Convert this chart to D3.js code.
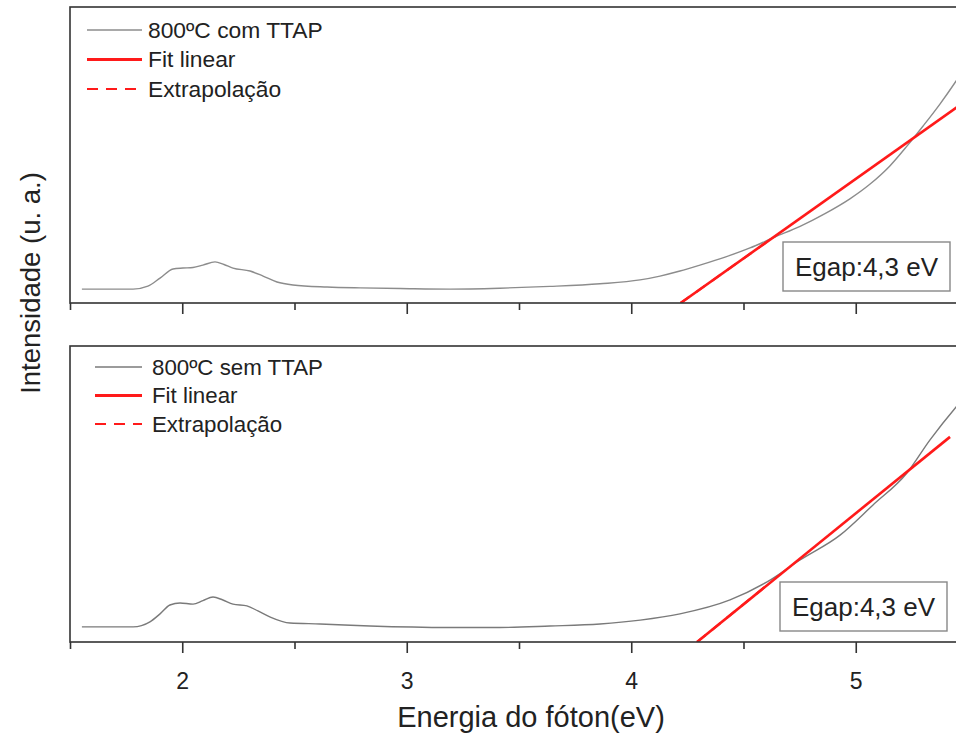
<!DOCTYPE html>
<html>
<head>
<meta charset="utf-8">
<script src="https://cdn.jsdelivr.net/npm/d3@7"></script>
<style>
  html, body { margin: 0; padding: 0; background: #fff; }
  svg { display: block; font-family: "Liberation Sans", Arial, sans-serif; }
</style>
</head>
<body>
<svg id="chart" width="956" height="735"></svg>
<script>
// ---------------- DATA ----------------
const xMajorTicks = [2, 3, 4, 5];
const xMinorTicks = [1.5, 2.5, 3.5, 4.5, 5.5];

const energyTop = [1.553, 1.781, 1.847, 1.901, 1.959, 2.003, 2.048, 2.092, 2.146, 2.186, 2.226, 2.302, 2.36, 2.422, 2.493, 2.645, 2.792, 2.97, 3.193, 3.415, 3.638, 3.861, 4.039, 4.128, 4.217, 4.306, 4.418, 4.529, 4.64, 4.752, 4.863, 4.974, 5.064, 5.153, 5.228, 5.3, 5.375, 5.447, 5.5];
const intensityTop = [4.7, 4.7, 5.7, 8.4, 11.5, 11.8, 12.0, 12.8, 13.9, 13.0, 11.8, 10.8, 9.1, 7.1, 6.1, 5.4, 5.1, 4.9, 4.7, 5.0, 5.6, 6.5, 7.8, 9.1, 10.8, 12.8, 15.5, 18.6, 22.3, 25.9, 30.2, 35.2, 40.2, 46.4, 53.0, 59.8, 67.2, 75.0, 81.1];

const energyBottom = [1.553, 1.781, 1.856, 1.901, 1.945, 1.99, 2.048, 2.092, 2.137, 2.181, 2.226, 2.288, 2.337, 2.39, 2.48, 2.614, 2.836, 3.193, 3.415, 3.638, 3.861, 4.04, 4.217, 4.44, 4.605, 4.752, 4.93, 5.077, 5.228, 5.33, 5.447, 5.5];
const intensityBottom = [5.1, 5.1, 6.8, 9.5, 12.5, 13.2, 12.8, 14.0, 15.2, 14.2, 12.8, 12.2, 10.5, 8.5, 6.4, 6.1, 5.4, 4.9, 4.9, 5.4, 6.1, 7.4, 9.5, 14.2, 20.3, 27.7, 36.1, 46.3, 57.1, 68.2, 79.4, 84.0];

const fitTopX = [4.22, 5.5];
const fitTopY = [0, 68.8];
const extraTopX = [4.22, 4.6];
const extraTopY = [0, 20.4];

const fitBottomX = [4.293, 5.42];
const fitBottomY = [0, 69.3];
const extraBottomX = [4.293, 4.6];
const extraBottomY = [0, 18.9];

const legendTop = ["800ºC com TTAP", "Fit linear", "Extrapolação"];
const legendBottom = ["800ºC sem TTAP", "Fit linear", "Extrapolação"];
const egapLabel = "Egap:4,3 eV";
const xTitle = "Energia do fóton(eV)";
const yTitle = "Intensidade (u. a.)";

// ---------------- LAYOUT ----------------
const svg = d3.select("#chart");
const left = 70, right = 968;
const panels = [
  { top: 7, bottom: 303, energy: energyTop, inten: intensityTop, color: "#8c8c8c",
    fitX: fitTopX, fitY: fitTopY, exX: extraTopX, exY: extraTopY, legend: legendTop,
    legX1: 87, legX2: 142, legTextX: 148, legY0: 30, legDy: 29.5, legFont: 22.8,
    box: { x: 783, y: 242, w: 167, h: 49 } },
  { top: 346, bottom: 642, energy: energyBottom, inten: intensityBottom, color: "#7a7a7a",
    fitX: fitBottomX, fitY: fitBottomY, exX: extraBottomX, exY: extraBottomY, legend: legendBottom,
    legX1: 95, legX2: 142, legTextX: 152, legY0: 367, legDy: 28.5, legFont: 22.3,
    box: { x: 780, y: 582, w: 167, h: 49 } }
];

const x = d3.scaleLinear().domain([1.5, 5.5]).range([left, right]);

panels.forEach((p, i) => {
  const y = d3.scaleLinear().domain([0, 100]).range([p.bottom, p.top]);
  const g = svg.append("g");

  const clipId = "clip" + i;
  svg.append("clipPath").attr("id", clipId).append("rect")
    .attr("x", left).attr("y", p.top).attr("width", right - left).attr("height", p.bottom - p.top);

  const plot = g.append("g").attr("clip-path", `url(#${clipId})`);

  const line = d3.line().x(d => x(d[0])).y(d => y(d[1])).curve(d3.curveMonotoneX);
  const pts = p.energy.map((e, k) => [e, p.inten[k]]);
  plot.append("path").attr("d", line(pts)).attr("fill", "none")
    .attr("stroke", p.color).attr("stroke-width", 1.4);

  const lin = d3.line().x(d => x(d[0])).y(d => y(d[1]));
  plot.append("path").attr("d", lin(p.exX.map((e, k) => [e, p.exY[k]])))
    .attr("fill", "none").attr("stroke", "#ff1a1a").attr("stroke-width", 2.2)
    .attr("stroke-dasharray", "11,8");
  plot.append("path").attr("d", lin(p.fitX.map((e, k) => [e, p.fitY[k]])))
    .attr("fill", "none").attr("stroke", "#ff1a1a").attr("stroke-width", 2.6);

  // frame
  g.append("rect").attr("x", left).attr("y", p.top).attr("width", right - left)
    .attr("height", p.bottom - p.top).attr("fill", "none")
    .attr("stroke", "#333").attr("stroke-width", 1.6);

  // x axis ticks (outward)
  const ax = d3.axisBottom(x).tickValues(xMajorTicks).tickSize(11)
    .tickFormat(i === 1 ? d3.format("d") : () => "");
  const axG = g.append("g").attr("transform", `translate(0,${p.bottom})`).call(ax);
  axG.select(".domain").remove();
  axG.selectAll(".tick line").attr("stroke", "#333").attr("stroke-width", 1.6);
  axG.selectAll(".tick text").attr("fill", "#222").attr("font-size", 23)
    .attr("font-family", "Liberation Sans, Arial, sans-serif").attr("y", 47).attr("dy", 0);

  const axMinor = d3.axisBottom(x).tickValues(xMinorTicks).tickSize(7).tickFormat(() => "");
  const axm = g.append("g").attr("transform", `translate(0,${p.bottom})`).call(axMinor);
  axm.select(".domain").remove();
  axm.selectAll(".tick line").attr("stroke", "#333").attr("stroke-width", 1.6);

  // legend
  const styles = [
    { stroke: p.color, w: 1.4, dash: null },
    { stroke: "#ff1a1a", w: 3, dash: null },
    { stroke: "#ff1a1a", w: 2.2, dash: "11,8" }
  ];
  p.legend.forEach((t, k) => {
    const yy = p.legY0 + k * p.legDy;
    g.append("line").attr("x1", p.legX1).attr("x2", p.legX2).attr("y1", yy).attr("y2", yy)
      .attr("stroke", styles[k].stroke).attr("stroke-width", styles[k].w)
      .attr("stroke-dasharray", styles[k].dash);
    g.append("text").attr("x", p.legTextX).attr("y", yy).attr("dy", "0.35em")
      .attr("font-size", p.legFont).attr("fill", "#222").text(t);
  });

  // Egap box
  g.append("rect").attr("x", p.box.x).attr("y", p.box.y).attr("width", p.box.w).attr("height", p.box.h)
    .attr("fill", "#fff").attr("stroke", "#888").attr("stroke-width", 1.4);
  g.append("text").attr("x", p.box.x + p.box.w / 2).attr("y", p.box.y + p.box.h / 2)
    .attr("dy", "0.36em").attr("text-anchor", "middle").attr("font-size", 26)
    .attr("fill", "#222").text(egapLabel);
});

// axis titles
svg.append("text").attr("x", 531).attr("y", 727).attr("text-anchor", "middle")
  .attr("font-size", 29).attr("fill", "#222").text(xTitle);
svg.append("text").attr("transform", "translate(40,283) rotate(-90)")
  .attr("text-anchor", "middle").attr("font-size", 27.5).attr("fill", "#222").text(yTitle);
</script>
</body>
</html>
